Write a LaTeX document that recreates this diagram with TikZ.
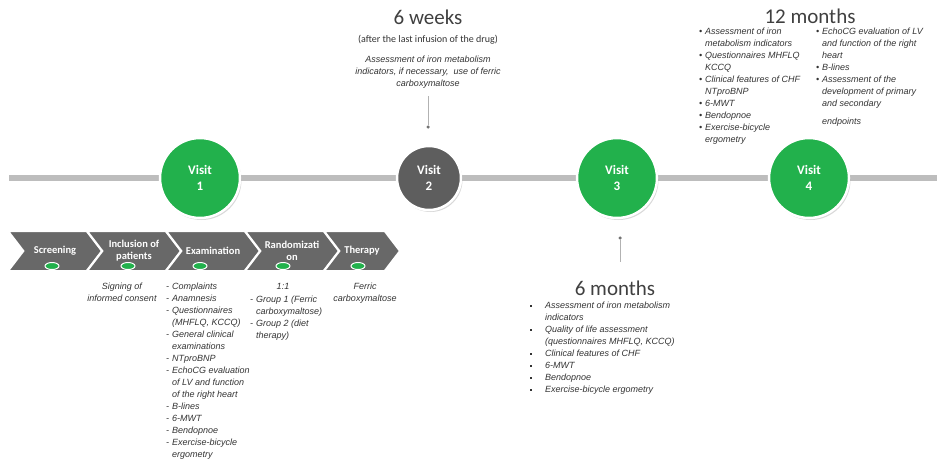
\documentclass[tikz,border=0pt]{standalone}
\usepackage{fontspec}
\setmainfont{Liberation Sans}
\newfontfamily\headfont{Carlito}
\usetikzlibrary{shapes.geometric,shapes.symbols,shadows}

\definecolor{visitgreen}{HTML}{22B14C}
\definecolor{visitgray}{HTML}{5E5E5E}
\definecolor{chevgray}{HTML}{686868}
\definecolor{linegray}{HTML}{BDBDBD}
\definecolor{txtgray}{HTML}{333333}

% list helpers
\newcommand{\bl}{\makebox[6pt][l]{-}}
\newcommand{\ind}{\hspace*{6pt}}
\newcommand{\sq}{\makebox[15pt][l]{\rule[2pt]{1.8pt}{1.8pt}}}
\newcommand{\sqind}{\hspace*{15pt}}
\newcommand{\dt}{\makebox[6pt][l]{\textbullet}}

\begin{document}
\begin{tikzpicture}[x=1pt,y=-1pt,
  visit/.style={circle,fill=visitgreen,draw=white,line width=2.5pt,minimum size=80pt,
    inner sep=0pt,text=white,align=center,
    font=\headfont\bfseries\fontsize{13}{16}\selectfont,
    drop shadow={opacity=0.3,shadow xshift=1.5pt,shadow yshift=-2pt}},
  chev/.style={signal,signal to=east,signal from=west,signal pointer angle=105,
    fill=chevgray,draw=white,line width=2pt,minimum height=40pt,inner sep=0pt,
    text=white,align=center,font=\headfont\bfseries\fontsize{10.5}{12}\selectfont},
  gdot/.style={ellipse,fill=visitgreen,draw=white,line width=1pt,
    minimum width=14pt,minimum height=7pt,inner sep=0pt},
  note/.style={font=\itshape\fontsize{9}{12}\selectfont,text=txtgray,inner sep=0pt},
  head/.style={font=\headfont\fontsize{21}{24}\selectfont,text=black!75,inner sep=0pt},
  pin/.style={draw=black!30,line width=0.6pt},
  pindot/.style={circle,fill=black!55,minimum size=3.5pt,inner sep=0pt}]
  \useasboundingbox (0,0) rectangle (949,467);

  % timeline
  \coordinate (tl-a) at (9,178);
  \coordinate (tl-b) at (937,178);
  \draw[line width=6pt,linegray] (tl-a) -- (tl-b);

  \node[visit] (v1) at (200,178) {Visit\\1};
  \node[visit,fill=visitgray,minimum size=64pt] (v2) at (429,178) {Visit\\2};
  \node[visit] (v3) at (617,178) {Visit\\3};
  \node[visit] (v4) at (809,178) {Visit\\4};

  % stages
  \foreach \x/\w/\d/\t [count=\i] in {55/94/52/Screening,134/94/128/{Inclusion of\\patients},
      213/94/200/Examination,292/94/283/{Randomizati\\on},362/76/358/Therapy}{
    \node[chev,minimum width=\w pt] (ch\i) at (\x,251) {\t};
    \node[gdot] (gd\i) at (\d,266) {};
  }

  \node[note,anchor=north,align=center] (sign) at (122,283) {Signing of\\informed consent};
  \node[note,anchor=north west,align=left] (exam) at (166,283) {\bl Complaints\\
    \bl Anamnesis\\ \bl Questionnaires\\ \ind(MHFLQ, KCCQ)\\ \bl General clinical\\
    \ind examinations\\ \bl NTproBNP\\ \bl EchoCG evaluation\\ \ind of LV and function\\
    \ind of the right heart\\ \bl B-lines\\ \bl 6-MWT\\ \bl Bendopnoe\\
    \bl Exercise-bicycle\\ \ind ergometry};
  \node[note,anchor=north] (ratio) at (283,283) {1:1};
  \node[note,anchor=north west,align=left] (groups) at (250,296) {\bl Group 1 (Ferric\\
    \ind carboxymaltose)\\ \bl Group 2 (diet\\ \ind therapy)};
  \node[note,anchor=north,align=center] (drug) at (365,283) {Ferric\\carboxymaltose};

  % 6 weeks
  \node[head] (wk-head) at (428,17) {6 weeks};
  \node[inner sep=0pt,text=txtgray,font=\headfont\fontsize{10}{12}\selectfont] (wk-sub) at (428,40)
    {(after the last infusion of the drug)};
  \node[note,anchor=north,align=center] (wk-text) at (428,56) {Assessment of iron metabolism\\
    indicators, if necessary,~ use of ferric\\carboxymaltose};
  \coordinate (wk-top) at (428,96);
  \node[pindot] (wk-dot) at (428,127) {};
  \draw[pin] (wk-top) -- (wk-dot);

  % 6 months
  \node[pindot] (mo-dot) at (620,238) {};
  \coordinate (mo-end) at (620,262);
  \draw[pin] (mo-dot) -- (mo-end);
  \node[head] (mo-head) at (615,288) {6 months};
  \node[note,anchor=north west,align=left] (mo-list) at (530,302) {\sq Assessment of iron metabolism\\
    \sqind indicators\\ \sq Quality of life assessment\\ \sqind(questionnaires MHFLQ, KCCQ)\\
    \sq Clinical features of CHF\\ \sq 6-MWT\\ \sq Bendopnoe\\ \sq Exercise-bicycle ergometry};

  % 12 months
  \node[head] (yr-head) at (810,16) {12 months};
  \node[note,anchor=north west,align=left] (yr-left) at (699,28) {\dt Assessment of iron\\
    \ind metabolism indicators\\ \dt Questionnaires MHFLQ\\ \ind KCCQ\\
    \dt Clinical features of CHF\\ \ind NTproBNP\\ \dt 6-MWT\\ \dt Bendopnoe\\
    \dt Exercise-bicycle\\ \ind ergometry};
  \node[note,anchor=north west,align=left] (yr-right) at (816,28) {\dt EchoCG evaluation of LV\\
    \ind and function of the right\\ \ind heart\\ \dt B-lines\\ \dt Assessment of the\\
    \ind development of primary\\ \ind and secondary\\[6pt] \ind endpoints};
\end{tikzpicture}
\end{document}
